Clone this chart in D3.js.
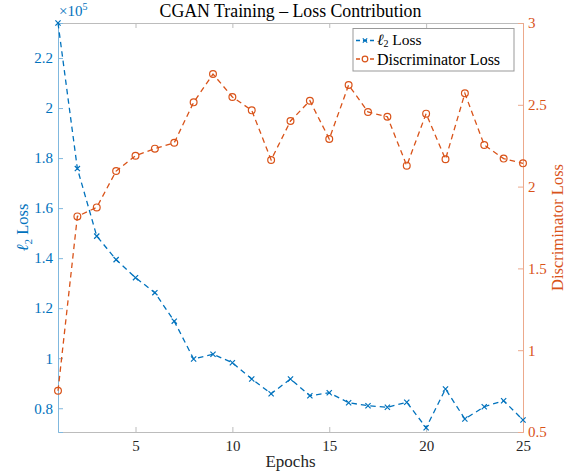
<!DOCTYPE html>
<html><head><meta charset="utf-8">
<script src="https://cdn.jsdelivr.net/npm/d3@7"></script>
<style>body{margin:0;background:#fff}svg{display:block}</style>
</head><body>
<script>
const epochs = d3.range(1, 26);
const l2Loss = [234000,175800,148800,139400,132200,126200,114800,99700,101600,98200,91700,85800,91700,85000,86200,82200,81000,80400,82400,72200,87700,75700,80600,83000,75300];
const discLoss = [0.752,1.818,1.873,2.095,2.189,2.232,2.268,2.515,2.688,2.548,2.466,2.163,2.401,2.525,2.291,2.621,2.456,2.427,2.128,2.446,2.167,2.570,2.254,2.171,2.142];
const xTicks = [5,10,15,20,25];
const leftTicks = [0.8,1,1.2,1.4,1.6,1.8,2,2.2];
const rightTicks = [0.5,1,1.5,2,2.5,3];

const FONT="Liberation Serif";
const W=569,H=471, L=58, R=523, T=23, B=432;
const blue="#0072BD", orange="#D95319";
const svg=d3.select("body").append("svg").attr("width",W).attr("height",H);

const x=d3.scaleLinear().domain([1,25]).range([L,R]);
const yL=d3.scaleLinear().domain([70500,234000]).range([B,T]);
const yR=d3.scaleLinear().domain([0.5,3]).range([B,T]);

const fmt=d=>String(+d.toFixed(2));
const gx=svg.append("g").attr("transform",`translate(0,${B})`)
  .call(d3.axisBottom(x).tickValues(xTicks).tickSize(-5).tickPadding(8).tickFormat(fmt));
const gxt=svg.append("g").attr("transform",`translate(0,${T})`)
  .call(d3.axisTop(x).tickValues(xTicks).tickSize(-5).tickFormat(""));
[gx,gxt].forEach(g=>{g.select(".domain").attr("stroke","#bcbcbc");g.selectAll(".tick line").attr("stroke","#bcbcbc");
  g.selectAll("text").attr("fill","#262626").attr("font-size",15);});

const gl=svg.append("g").attr("transform",`translate(${L},0)`)
  .call(d3.axisLeft(yL).tickValues(leftTicks.map(v=>v*1e5)).tickSize(-5).tickPadding(5).tickFormat(d=>fmt(d/1e5)));
gl.select(".domain").attr("stroke","#80b8de");gl.selectAll(".tick line").attr("stroke","#80b8de");
gl.selectAll("text").attr("fill",blue).attr("font-size",15);

const gr=svg.append("g").attr("transform",`translate(${R},0)`)
  .call(d3.axisRight(yR).tickValues(rightTicks).tickSize(-5).tickPadding(5).tickFormat(fmt));
gr.select(".domain").attr("stroke","#eca98c");gr.selectAll(".tick line").attr("stroke","#eca98c");
gr.selectAll("text").attr("fill",orange).attr("font-size",15);
svg.selectAll(".domain").attr("stroke-width",1);

const lineL=d3.line().x((d,i)=>x(epochs[i])).y(d=>yL(d));
const lineR=d3.line().x((d,i)=>x(epochs[i])).y(d=>yR(d));
svg.append("path").datum(l2Loss).attr("d",lineL).attr("fill","none").attr("stroke",blue).attr("stroke-width",1.3).attr("stroke-dasharray","5.5,4");
svg.append("path").datum(discLoss).attr("d",lineR).attr("fill","none").attr("stroke",orange).attr("stroke-width",1.3).attr("stroke-dasharray","5.5,4");

const cross=(g,cx,cy,s)=>g.append("path").attr("d",`M${cx-s},${cy-s}L${cx+s},${cy+s}M${cx-s},${cy+s}L${cx+s},${cy-s}`).attr("stroke",blue).attr("stroke-width",1.2);
l2Loss.forEach((d,i)=>cross(svg,x(epochs[i]),yL(d),2.6));
svg.append("g").selectAll("circle").data(discLoss).join("circle")
  .attr("cx",(d,i)=>x(epochs[i])).attr("cy",d=>yR(d)).attr("r",3.4)
  .attr("fill","none").attr("stroke",orange).attr("stroke-width",1.2);

svg.append("text").attr("x",(L+R)/2).attr("y",17).attr("text-anchor","middle").attr("fill","#000").attr("font-size",17.8).text("CGAN Training – Loss Contribution");
const ex=svg.append("text").attr("x",59).attr("y",16).attr("fill",blue).attr("font-size",15);
ex.append("tspan").text("×10");
ex.append("tspan").attr("dy",-6).attr("font-size",10).text("5");
svg.append("text").attr("x",(L+R)/2).attr("y",467).attr("text-anchor","middle").attr("fill","#262626").attr("font-size",17).text("Epochs");
const yl=svg.append("text").attr("transform",`translate(28,${(T+B)/2}) rotate(-90)`).attr("text-anchor","middle").attr("fill",blue).attr("font-size",16.5);
yl.append("tspan").attr("font-style","italic").text("ℓ");
yl.append("tspan").attr("dy",4).attr("font-size",11).text("2");
yl.append("tspan").attr("dy",-4).text(" Loss");
svg.append("text").attr("transform",`translate(563,${(T+B)/2}) rotate(-90)`).attr("text-anchor","middle").attr("fill",orange).attr("font-size",16.5).text("Discriminator Loss");

const lg=svg.append("g");
lg.append("rect").attr("x",353).attr("y",28.5).attr("width",161).attr("height",42.5).attr("fill","#fff").attr("stroke","#999").attr("stroke-width",1);
const rows=[{c:blue,m:"x",y:40.5},{c:orange,m:"o",y:59}];
rows.forEach(r=>{
  lg.append("line").attr("x1",356).attr("x2",374).attr("y1",r.y).attr("y2",r.y).attr("stroke",r.c).attr("stroke-width",1.3).attr("stroke-dasharray","4,3");
  if(r.m==="x") cross(lg,365,r.y,2.2);
  else lg.append("circle").attr("cx",365).attr("cy",r.y).attr("r",2.8).attr("fill","#fff").attr("stroke",r.c).attr("stroke-width",1.2);
});
const t1=lg.append("text").attr("x",377).attr("y",45).attr("fill","#000").attr("font-size",15.5);
t1.append("tspan").attr("font-style","italic").text("ℓ");
t1.append("tspan").attr("dy",2).attr("font-size",10).text("2");
t1.append("tspan").attr("dy",-2).text(" Loss");
lg.append("text").attr("x",377).attr("y",64.5).attr("fill","#000").attr("font-size",16).text("Discriminator Loss");
svg.selectAll("text").attr("font-family",FONT).style("font-family",FONT);
svg.selectAll("g").attr("font-family",FONT);
</script>
</body></html>
